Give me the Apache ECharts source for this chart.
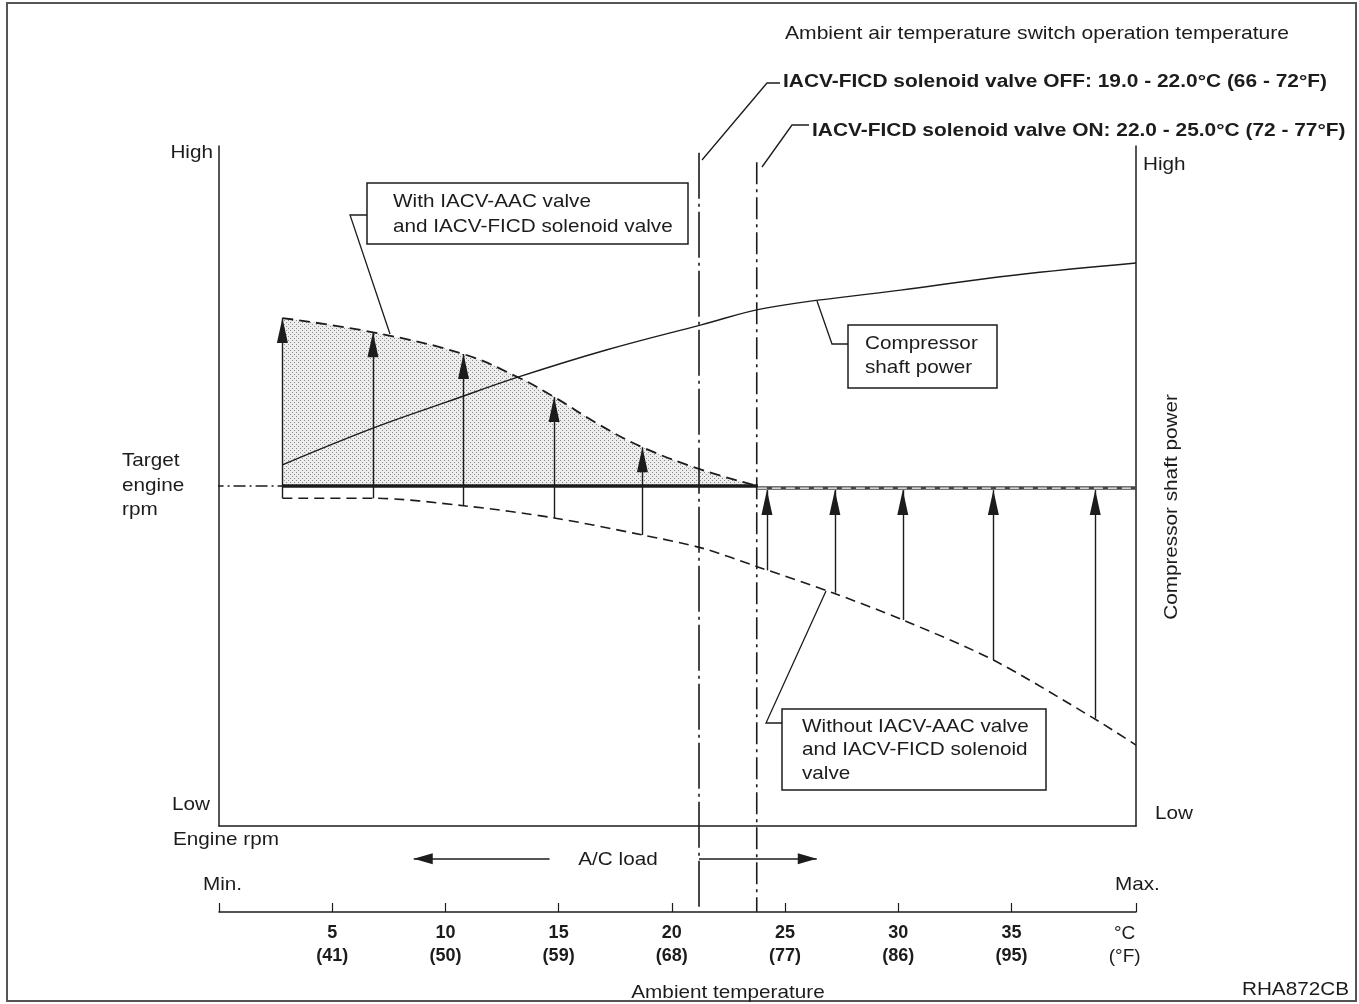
<!DOCTYPE html>
<html>
<head>
<meta charset="utf-8">
<script src="https://cdn.jsdelivr.net/npm/echarts@6/dist/echarts.min.js"></script>
<style>
html, body { margin: 0; padding: 0; background: #fff; }
#chart { width: 1359px; height: 1004px; }
</style>
</head>
<body>
<div id="chart"></div>
<script>
// x = ambient temperature (°C), y = relative level (0 = Low, 100 = High)
var compTemp = [2.8, 6.8, 10.1, 13.2, 17.1, 21.3, 24.2, 30.1, 35.1, 40.5];
var compPower = [53.1, 58.5, 62.4, 66.0, 70.0, 73.7, 76.2, 78.8, 81.0, 82.8];

var withTemp = [2.8, 6.8, 10.8, 13.2, 14.8, 16.8, 18.7, 21.3, 23.8];
var withRpm = [74.7, 72.6, 69.4, 66.0, 63.1, 59.0, 55.7, 52.4, 50.0];

var withoutTemp = [2.8, 6.8, 10.8, 14.8, 18.7, 21.3, 23.8, 27.1, 30.2, 34.2, 38.6, 40.5];
var withoutRpm = [48.2, 48.2, 47.1, 45.3, 42.8, 40.9, 38.1, 34.3, 30.3, 24.4, 15.9, 11.9];

var targetRpm = 50;
var targetStubTemp = [-1.3, 2.8];
var targetLeftTemp = [2.8, 23.8];
var targetRightTemp = [23.8, 40.5];
var targetRightRpm = 49.7;

var leftArrowTemp = [2.8, 6.8, 10.8, 14.8, 18.7];
var leftArrowFrom = [48.2, 48.2, 47.1, 45.3, 42.8];
var leftArrowTo = [74.7, 72.6, 69.4, 63.1, 55.7];

var rightArrowTemp = [24.2, 27.2, 30.2, 34.2, 38.7];
var rightArrowFrom = [37.6, 34.3, 30.3, 24.4, 15.8];
var rightArrowTo = 49.4;

var switchOffTemp = 21.2, switchOnTemp = 23.75;
var switchOffTop = 99.0, switchOnTop = 97.6, switchBottom = -12.6;

var loadLeftTemp = [14.6, 8.6];
var loadRightTemp = [21.2, 26.4];
var loadLevel = 0.62;

var tempTicks = [0, 5, 10, 15, 20, 25, 30, 35, 40.5];
var tempLabels = [5, 10, 15, 20, 25, 30, 35, 40];
var fahrLabels = ['41', '50', '59', '68', '77', '86', '95'];

var FONT = '"Liberation Sans", Arial, sans-serif';
var INK = '#1c1c1c';

function zip(xs, ys) {
    return xs.map(function (x, i) { return [x, ys[i]]; });
}

// stipple pattern for the shaded area
var pat = document.createElement('canvas');
pat.width = 4; pat.height = 4;
var pc = pat.getContext('2d');
pc.fillStyle = '#ededed'; pc.fillRect(0, 0, 4, 4);
pc.fillStyle = '#8a8a8a'; pc.fillRect(0, 0, 1, 1); pc.fillRect(2, 2, 1, 1);

var arrowLines = [];
leftArrowTemp.forEach(function (t, i) {
    arrowLines.push([{ coord: [t, leftArrowFrom[i]] }, { coord: [t, leftArrowTo[i]] }]);
});
rightArrowTemp.forEach(function (t, i) {
    arrowLines.push([{ coord: [t, rightArrowFrom[i]] }, { coord: [t, rightArrowTo] }]);
});

// scanned lettering is set wide, so stretch text a little
function txt(x, y, s, align, opt) {
    opt = opt || {};
    return {
        type: 'text', x: x, y: y, silent: true,
        scaleX: opt.sx || 1.09, rotation: opt.rot || 0,
        style: {
            text: s, fill: INK,
            font: (opt.bold ? 'bold ' : '') + (opt.size || 19) + 'px ' + FONT,
            textAlign: align, align: align,
            textVerticalAlign: 'middle', verticalAlign: 'middle'
        }
    };
}
function box(x, y, w, h) {
    return { type: 'rect', silent: true, shape: { x: x, y: y, width: w, height: h },
        style: { fill: '#fff', stroke: INK, lineWidth: 1.5 } };
}
function leader(pts) {
    return { type: 'polyline', silent: true, shape: { points: pts },
        style: { fill: null, stroke: INK, lineWidth: 1.3 } };
}

var chart = echarts.init(document.getElementById('chart'), null, { renderer: 'canvas' });

var option = {
    backgroundColor: '#fff',
    animation: false,
    textStyle: { fontFamily: FONT, color: INK },
    grid: [
        { left: 219, right: 223, top: 146, bottom: 178, outerBoundsMode: 'none' },
        { left: 219, right: 223, top: 826, bottom: 92, outerBoundsMode: 'none' }
    ],
    xAxis: [
        {
            gridIndex: 0, type: 'value', min: 0, max: 40.5,
            axisLine: { show: true, lineStyle: { color: INK, width: 1.5 } },
            axisTick: { show: false }, axisLabel: { show: false }, splitLine: { show: false }
        },
        {
            gridIndex: 1, type: 'value', min: 0, max: 40.5,
            axisLine: { show: true, lineStyle: { color: INK, width: 1.5 } },
            axisTick: { show: true, inside: true, length: 9, customValues: tempTicks,
                lineStyle: { color: INK, width: 1.2 } },
            axisLabel: {
                show: true, margin: 10, customValues: tempLabels,
                formatter: function (v) {
                    if (v === 40) return '{u|°C}\n{u|(°F)}';
                    var i = tempLabels.indexOf(v);
                    return '{b|' + v + '}\n{b|(' + fahrLabels[i] + ')}';
                },
                rich: {
                    b: { fontFamily: FONT, fontWeight: 'bold', fontSize: 18, lineHeight: 23, color: INK },
                    u: { fontFamily: FONT, fontSize: 19, lineHeight: 23, color: INK }
                }
            },
            splitLine: { show: false }
        }
    ],
    yAxis: [
        {
            gridIndex: 0, type: 'value', min: 0, max: 100, position: 'left',
            axisLine: { show: true, lineStyle: { color: INK, width: 1.5 } },
            axisTick: { show: false }, axisLabel: { show: false }, splitLine: { show: false }
        },
        {
            gridIndex: 0, type: 'value', min: 0, max: 100, position: 'right',
            axisLine: { show: true, lineStyle: { color: INK, width: 1.5 } },
            axisTick: { show: false }, axisLabel: { show: false }, splitLine: { show: false }
        },
        {
            gridIndex: 1, type: 'value', min: 0, max: 1, show: false
        }
    ],
    series: [
        {
            name: 'Compressor shaft power', type: 'line', xAxisIndex: 0, yAxisIndex: 0,
            data: zip(compTemp, compPower), smooth: 0.4, symbol: 'none',
            lineStyle: { color: INK, width: 1.4 }
        },
        {
            name: 'With IACV-AAC valve', type: 'line', xAxisIndex: 0, yAxisIndex: 0,
            data: zip(withTemp, withRpm), smooth: 0.4, symbol: 'none', z: 1,
            lineStyle: { color: INK, width: 1.8, type: [11, 6] },
            areaStyle: { origin: targetRpm, color: { image: pat, repeat: 'repeat' }, opacity: 1 }
        },
        {
            name: 'Without IACV-AAC valve', type: 'line', xAxisIndex: 0, yAxisIndex: 0,
            data: zip(withoutTemp, withoutRpm), smooth: 0.3, symbol: 'none',
            lineStyle: { color: INK, width: 1.6, type: [10, 6] }
        },
        {
            name: 'Target engine rpm', type: 'line', xAxisIndex: 0, yAxisIndex: 0,
            data: zip(targetLeftTemp, [targetRpm, targetRpm]), symbol: 'none',
            lineStyle: { color: INK, width: 3.5 }
        },
        {
            type: 'line', xAxisIndex: 0, yAxisIndex: 0, clip: false,
            data: zip(targetStubTemp, [targetRpm, targetRpm]), symbol: 'none',
            lineStyle: { color: INK, width: 1.4, type: [12, 4, 2, 4] }
        },
        {
            type: 'line', xAxisIndex: 0, yAxisIndex: 0,
            data: zip(targetRightTemp, [targetRightRpm, targetRightRpm]), symbol: 'none',
            lineStyle: { color: '#444', width: 3.5 }
        },
        {
            type: 'line', xAxisIndex: 0, yAxisIndex: 0,
            data: zip(targetRightTemp, [targetRightRpm, targetRightRpm]), symbol: 'none',
            lineStyle: { color: '#fff', width: 1.3, type: [9, 5] }
        },
        {
            name: 'switch OFF', type: 'line', xAxisIndex: 0, yAxisIndex: 0, clip: false, z: 5,
            data: zip([switchOffTemp, switchOffTemp], [switchOffTop, switchBottom]), symbol: 'none',
            lineStyle: { color: INK, width: 1.6, type: [46, 5, 3, 5] }
        },
        {
            name: 'switch ON', type: 'line', xAxisIndex: 0, yAxisIndex: 0, clip: false, z: 5,
            data: zip([switchOnTemp, switchOnTemp], [switchOnTop, switchBottom]), symbol: 'none',
            lineStyle: { color: INK, width: 1.6, type: [22, 5, 3, 5] }
        },
        {
            name: 'arrows', type: 'line', xAxisIndex: 0, yAxisIndex: 0, data: [],
            markLine: {
                silent: true, animation: false,
                symbol: ['none', 'triangle'], symbolSize: [11, 25],
                symbolOffset: [0, [0, '50%']],
                label: { show: false },
                lineStyle: { color: INK, width: 1.4, type: 'solid' },
                itemStyle: { color: INK },
                emphasis: { disabled: true },
                data: arrowLines
            }
        },
        {
            name: 'A/C load', type: 'line', xAxisIndex: 1, yAxisIndex: 2, data: [],
            markLine: {
                silent: true, animation: false,
                symbol: ['none', 'triangle'], symbolSize: [11, 19],
                symbolOffset: [0, [0, '50%']],
                label: { show: false },
                lineStyle: { color: INK, width: 1.6, type: 'solid' },
                itemStyle: { color: INK },
                emphasis: { disabled: true },
                data: [
                    [{ coord: [loadLeftTemp[0], loadLevel] }, { coord: [loadLeftTemp[1], loadLevel] }],
                    [{ coord: [loadRightTemp[0], loadLevel] }, { coord: [loadRightTemp[1], loadLevel] }]
                ]
            }
        }
    ],
    graphic: [
        { type: 'rect', silent: true, shape: { x: 7, y: 3, width: 1349, height: 998 },
            style: { fill: null, stroke: '#555', lineWidth: 2 } },

        txt(785, 34, 'Ambient air temperature switch operation temperature', 'left', { sx: 1.11 }),
        leader([[702, 160], [767, 83], [780, 83]]),
        txt(783, 82, 'IACV-FICD solenoid valve OFF: 19.0 - 22.0°C (66 - 72°F)', 'left', { bold: true, sx: 1.1 }),
        leader([[762, 167], [792, 125], [809, 125]]),
        txt(812, 131, 'IACV-FICD solenoid valve ON: 22.0 - 25.0°C (72 - 77°F)', 'left', { bold: true, sx: 1.1 }),

        txt(213, 153, 'High', 'right'),
        txt(210, 805, 'Low', 'right'),
        txt(122, 461, 'Target', 'left'),
        txt(122, 486, 'engine', 'left'),
        txt(122, 510, 'rpm', 'left'),
        txt(173, 840, 'Engine rpm', 'left'),
        txt(1143, 165, 'High', 'left'),
        txt(1155, 814, 'Low', 'left'),
        txt(1172, 507, 'Compressor shaft power', 'center', { rot: Math.PI / 2 }),
        txt(203, 885, 'Min.', 'left'),
        txt(1115, 885, 'Max.', 'left'),
        txt(618, 860, 'A/C load', 'center'),
        txt(728, 993, 'Ambient temperature', 'center'),
        txt(1349, 990, 'RHA872CB', 'right'),

        leader([[367, 215], [350, 215], [390, 334]]),
        box(367, 183, 321, 61),
        txt(393, 202, 'With IACV-AAC valve', 'left'),
        txt(393, 227, 'and IACV-FICD solenoid valve', 'left'),

        leader([[848, 344], [832, 344], [817, 301]]),
        box(848, 325, 149, 63),
        txt(865, 344, 'Compressor', 'left'),
        txt(865, 368, 'shaft power', 'left'),

        leader([[782, 723], [766, 723], [826, 591]]),
        box(782, 709, 264, 81),
        txt(802, 727, 'Without IACV-AAC valve', 'left'),
        txt(802, 750, 'and IACV-FICD solenoid', 'left'),
        txt(802, 774, 'valve', 'left')
    ]
};

chart.setOption(option);
</script>
</body>
</html>
